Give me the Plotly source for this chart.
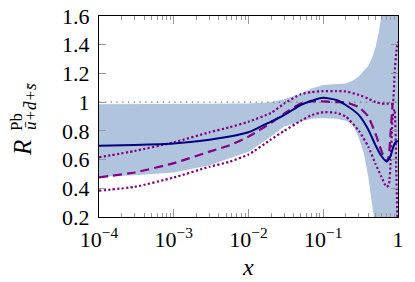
import plotly.graph_objects as go

# ---- data ----
x_band = [1e-4, 3e-4, 1e-3, 3e-3, 5.6e-3, 1e-2, 2e-2, 3e-2, 5e-2, 7e-2, 0.1, 0.15,
          0.2, 0.25, 0.3, 0.35, 0.4, 0.45, 0.5, 0.55, 0.6, 0.7, 1.0]
band_hi = [0.985, 0.985, 0.985, 0.985, 0.985, 0.99, 1.0, 1.02, 1.06, 1.095, 1.12, 1.125,
           1.13, 1.15, 1.18, 1.22, 1.25, 1.31, 1.38, 1.48, 1.6, 2.0, 3.0]
band_lo = [0.48, 0.49, 0.51, 0.56, 0.61, 0.655, 0.76, 0.83, 0.865, 0.885, 0.89, 0.885,
           0.87, 0.84, 0.75, 0.64, 0.48, 0.25, 0.0, -0.2, -0.3, -0.6, -1.0]

x_lines = [1e-4, 3e-4, 1e-3, 3e-3, 5.6e-3, 1e-2, 2e-2, 3e-2, 5e-2, 7e-2, 0.1, 0.15,
           0.2, 0.3, 0.4, 0.5, 0.6, 0.7, 0.75, 0.8, 0.85, 0.9, 0.95, 1.0]
central = [0.697, 0.702, 0.712, 0.738, 0.76, 0.79, 0.865, 0.91, 0.98, 1.01, 1.03, 1.015,
           0.98, 0.91, 0.81, 0.70, 0.625, 0.588, 0.60, 0.63, 0.675, 0.71, 0.725, 0.73]
upper = [0.616, 0.66, 0.72, 0.79, 0.825, 0.864, 0.925, 0.99, 1.055, 1.07, 1.077, 1.077,
         1.075, 1.05, 1.025, 1.0, 0.99, 0.99, 0.99, 0.985, 0.99, 1.2, 1.35, 1.42]
lower = [0.383, 0.41, 0.475, 0.55, 0.585, 0.635, 0.74, 0.80, 0.87, 0.91, 0.93, 0.925,
         0.90, 0.80, 0.69, 0.57, 0.48, 0.41, 0.42, 0.6, 0.9, 0.95, 0.5, 0.0]

x_dash = [1e-4, 3e-4, 1e-3, 3e-3, 5.6e-3, 1e-2, 2e-2, 3e-2, 5e-2, 7e-2, 0.1, 0.15,
          0.2, 0.3, 0.4, 0.5, 0.6, 0.7, 0.75, 0.8, 0.85]
dashed = [0.476, 0.51, 0.575, 0.655, 0.70, 0.76, 0.855, 0.92, 0.99, 1.005, 1.005, 1.0,
          0.998, 0.965, 0.9, 0.78, 0.66, 0.585, 0.62, 0.80, 1.0]

ref_x = [1e-4, 1.0]
ref_y = [1.0, 1.0]

x_tickvals = [1e-4, 1e-3, 1e-2, 1e-1, 1]
x_ticktext = ["10<sup>\u22124</sup>", "10<sup>\u22123</sup>", "10<sup>\u22122</sup>",
              "10<sup>\u22121</sup>", "1"]
y_tickvals = [0.2, 0.4, 0.6, 0.8, 1.0, 1.2, 1.4, 1.6]
y_ticktext = ["0.2", "0.4", "0.6", "0.8", "1", "1.2", "1.4", "1.6"]

minor_x = [m * 10 ** e for e in range(-4, 0) for m in range(2, 10)]

FONT = "Liberation Serif"
PURPLE = "#800080"
NAVY = "#000080"
BAND = "#b0c4de"

# plot area in pixels
L, R, T, B = 99, 398, 16, 217
W, H = 415, 282


def px(xp):
    return (xp - L) / (R - L)


def py(yp):
    return (B - yp) / (B - T)


fig = go.Figure()
fig.add_trace(go.Scatter(x=x_band, y=band_lo, mode="lines", line=dict(width=0),
                         showlegend=False, hoverinfo="skip"))
fig.add_trace(go.Scatter(x=x_band, y=band_hi, mode="lines", line=dict(width=0),
                         fill="tonexty", fillcolor=BAND, showlegend=False, hoverinfo="skip"))
fig.add_trace(go.Scatter(x=ref_x, y=ref_y, mode="lines",
                         line=dict(color="#777777", width=1.3, dash="1.3px,4.5px"),
                         showlegend=False))
fig.add_trace(go.Scatter(x=x_lines, y=upper, mode="lines",
                         line=dict(color=PURPLE, width=2.2, dash="2.2px,2.3px",
                                   shape="spline", smoothing=0.5), showlegend=False))
fig.add_trace(go.Scatter(x=x_lines, y=lower, mode="lines",
                         line=dict(color=PURPLE, width=2.2, dash="2.2px,2.3px",
                                   shape="spline", smoothing=0.5), showlegend=False))
fig.add_trace(go.Scatter(x=x_dash, y=dashed, mode="lines",
                         line=dict(color=PURPLE, width=2.2, dash="9px,5px",
                                   shape="spline", smoothing=0.5), showlegend=False))
fig.add_trace(go.Scatter(x=x_lines, y=central, mode="lines",
                         line=dict(color=NAVY, width=2, shape="spline", smoothing=0.5),
                         showlegend=False))

fig.update_layout(
    width=W, height=H,
    margin=dict(l=L, r=W - R, t=T, b=H - B, autoexpand=False),
    paper_bgcolor="white", plot_bgcolor="white",
    font=dict(family=FONT, size=22, color="black"),
    showlegend=False,
    xaxis=dict(type="log", range=[-4, 0], tickvals=x_tickvals, ticktext=x_ticktext,
               ticks="inside", ticklen=8, tickcolor="#999999", tickwidth=1,
               minor=dict(tickvals=minor_x, ticks="inside", ticklen=4,
                          tickcolor="#999999", tickwidth=1, showgrid=False),
               showline=True, linecolor="black", linewidth=1, mirror="ticks",
               showgrid=False, zeroline=False, automargin=False,
               ticklabelstandoff=3, tickfont=dict(size=22)),
    yaxis=dict(range=[0.2, 1.6], tickvals=y_tickvals, ticktext=y_ticktext,
               ticks="inside", ticklen=7, tickcolor="#999999", tickwidth=1,
               showline=True, linecolor="black", linewidth=1, mirror="ticks",
               showgrid=False, zeroline=False, automargin=False,
               ticklabelstandoff=4, tickfont=dict(size=22)),
)

# x-axis label
fig.add_annotation(text="<i>x</i>", xref="paper", yref="paper",
                   x=px(248), y=py(267), showarrow=False, font=dict(size=24),
                   xanchor="center", yanchor="middle")

# y-axis label R^{Pb}_{ubar+dbar+sbar}
fig.add_annotation(text="<i>R</i>", xref="paper", yref="paper",
                   x=px(22), y=py(148), textangle=-90,
                   showarrow=False, font=dict(size=25), xanchor="center", yanchor="middle")
fig.add_annotation(text="Pb", xref="paper", yref="paper",
                   x=px(16), y=py(122), textangle=-90,
                   showarrow=False, font=dict(size=17), xanchor="center", yanchor="middle")
fig.add_annotation(text="<i>u\u0304+d\u0304+s\u0304</i>", xref="paper", yref="paper",
                   x=px(30), y=py(107), textangle=-90,
                   showarrow=False, font=dict(size=17), xanchor="center", yanchor="middle")

fig.write_html("out.html", post_script="document.body.style.margin='0';",
               config={"displayModeBar": False, "staticPlot": True})
